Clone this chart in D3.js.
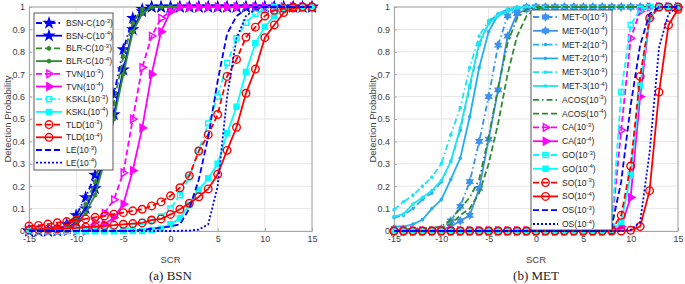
<!DOCTYPE html>
<html>
<head>
<meta charset="utf-8">
<script src="https://cdn.jsdelivr.net/npm/d3@7"></script>
<style>
  body { margin: 0; background: #fff; }
  svg text { font-family: "Liberation Sans", Arial, sans-serif; }
</style>
</head>
<body>
<script>
// x values (SCR, dB)
var scr = [-15,-14,-13,-12,-11,-10,-9,-8,-7,-6,-5,-4,-3,-2,-1,0,1,2,3,4,5,6,7,8,9,10,11,12,13,14,15];
var xTicks = [-15,-10,-5,0,5,10,15];
var yTicks = [0,0.1,0.2,0.3,0.4,0.5,0.6,0.7,0.8,0.9,1];

// (a) BSN
var bsnC3 = [0,0,0,0.01,0.03,0.07,0.15,0.25,0.42,0.61,0.81,0.95,0.99,1,1,1,1,1,1,1,1,1,1,1,1,1,1,1,1,1,1];
var bsnC4 = [0,0,0,0,0.01,0.04,0.1,0.19,0.33,0.52,0.72,0.9,0.98,1,1,1,1,1,1,1,1,1,1,1,1,1,1,1,1,1,1];
var blrC3 = [0,0,0,0,0.02,0.05,0.12,0.22,0.37,0.57,0.78,0.93,0.99,1,1,1,1,1,1,1,1,1,1,1,1,1,1,1,1,1,1];
var blrC4 = [0,0,0,0,0.01,0.03,0.08,0.16,0.31,0.5,0.7,0.89,0.97,1,1,1,1,1,1,1,1,1,1,1,1,1,1,1,1,1,1];
var tvn3  = [0,0,0,0,0,0,0.01,0.04,0.08,0.14,0.26,0.5,0.73,0.87,0.95,0.98,1,1,1,1,1,1,1,1,1,1,1,1,1,1,1];
var tvn4  = [0,0,0,0,0,0,0,0.01,0.03,0.06,0.12,0.27,0.46,0.7,0.89,0.98,1,1,1,1,1,1,1,1,1,1,1,1,1,1,1];
var kskl3 = [0,0,0,0,0,0,0,0,0,0,0.005,0.02,0.04,0.05,0.065,0.1,0.16,0.24,0.36,0.48,0.6,0.75,0.86,0.93,0.97,0.99,1,1,1,1,1];
var kskl4 = [0,0,0,0,0,0,0,0,0,0,0,0,0,0.005,0.01,0.03,0.057,0.116,0.183,0.235,0.3,0.436,0.555,0.71,0.838,0.912,0.96,0.99,1,1,1];
var tld3  = [0.022,0.025,0.031,0.037,0.042,0.049,0.054,0.061,0.067,0.075,0.082,0.09,0.097,0.112,0.13,0.157,0.193,0.247,0.357,0.43,0.52,0.69,0.766,0.865,0.91,0.96,0.985,0.995,1,1,1];
var tld4  = [0.005,0.006,0.008,0.01,0.012,0.014,0.017,0.02,0.023,0.026,0.03,0.033,0.036,0.049,0.054,0.074,0.097,0.124,0.153,0.188,0.253,0.36,0.463,0.615,0.723,0.863,0.92,0.975,0.995,1,1];
var le3   = [0,0,0,0,0,0,0,0,0,0,0,0.002,0.005,0.01,0.015,0.02,0.03,0.1,0.23,0.42,0.67,0.88,0.96,0.99,1,1,1,1,1,1,1];
var le4   = [0,0,0,0,0,0,0,0,0,0,0,0,0,0,0,0,0.001,0.002,0.006,0.03,0.2,0.6,0.86,0.96,0.99,1,1,1,1,1,1];

// (b) MET
var met0_3 = [0,0,0,0,0.002,0.01,0.045,0.11,0.22,0.4,0.6,0.83,0.96,0.99,1,1,1,1,1,1,1,1,1,1,1,1,1,1,1,1,1];
var met0_4 = [0,0,0,0,0,0.005,0.02,0.045,0.07,0.19,0.41,0.63,0.87,0.97,0.99,1,1,1,1,1,1,1,1,1,1,1,1,1,1,1,1];
var met2_3 = [0.06,0.07,0.1,0.14,0.17,0.22,0.31,0.45,0.64,0.83,0.93,0.97,0.99,1,1,1,1,1,1,1,1,1,1,1,1,1,1,1,1,1,1];
var met2_4 = [0.02,0.02,0.03,0.05,0.1,0.14,0.23,0.325,0.51,0.73,0.89,0.965,0.98,0.995,1,1,1,1,1,1,1,1,1,1,1,1,1,1,1,1,1];
var met3_3 = [0.095,0.13,0.16,0.2,0.24,0.3,0.43,0.55,0.73,0.87,0.94,0.97,0.99,1,1,1,1,1,1,1,1,1,1,1,1,1,1,1,1,1,1];
var met3_4 = [0.065,0.075,0.12,0.15,0.18,0.225,0.31,0.46,0.65,0.84,0.925,0.96,0.98,0.995,1,1,1,1,1,1,1,1,1,1,1,1,1,1,1,1,1];
var acos3  = [0.005,0.007,0.01,0.012,0.015,0.02,0.05,0.1,0.15,0.23,0.42,0.64,0.84,0.95,0.99,1,1,1,1,1,1,1,1,1,1,1,1,1,1,1,1];
var acos4  = [0.003,0.004,0.006,0.008,0.01,0.012,0.03,0.07,0.1,0.17,0.3,0.48,0.7,0.87,0.96,0.99,1,1,1,1,1,1,1,1,1,1,1,1,1,1,1];
var ca3 = [0,0,0,0,0,0,0,0,0,0,0,0,0,0,0,0,0,0,0,0,0,0,0,0.02,0.45,0.86,0.98,1,1,1,1];
var ca4 = [0,0,0,0,0,0,0,0,0,0,0,0,0,0,0,0,0,0,0,0,0,0,0,0,0.02,0.15,0.6,0.95,1,1,1];
var go3 = [0,0,0,0,0,0,0,0,0,0,0,0,0,0,0,0,0,0,0,0,0,0,0,0.02,0.62,0.92,0.99,1,1,1,1];
var go4 = [0,0,0,0,0,0,0,0,0,0,0,0,0,0,0,0,0,0,0,0,0,0,0,0,0.04,0.25,0.65,0.95,1,1,1];
var so3 = [0,0,0,0,0,0,0,0,0,0,0,0,0,0,0,0,0,0,0,0,0,0,0,0.005,0.07,0.29,0.69,0.95,1,1,1];
var so4 = [0,0,0,0,0,0,0,0,0,0,0,0,0,0,0,0,0,0,0,0,0,0,0,0,0,0.003,0.02,0.18,0.62,0.92,0.99];
var os3 = [0,0,0,0,0,0,0,0,0,0,0,0,0,0,0,0,0,0,0,0,0,0,0,0.02,0.22,0.56,0.83,0.97,1,1,1];
var os4 = [0,0,0,0,0,0,0,0,0,0,0,0,0,0,0,0,0,0,0,0,0,0,0,0,0,0.005,0.04,0.35,0.82,0.97,1];

// line styles (MATLAB-like)
var DASH = "6,3", DASHDOT = "6,3,1.5,3", DOT = "2,2", SOLID = null;

// custom marker shapes
var symPentagram = d3.symbolStar;
var symHexagram = { draw: function(ctx, size) {
  var r = Math.sqrt(size) * 0.62;
  [-90, 90].forEach(function(a0) {
    for (var k = 0; k < 3; k++) {
      var a = (a0 + k * 120) * Math.PI / 180;
      if (k === 0) ctx.moveTo(r * Math.cos(a), r * Math.sin(a));
      else ctx.lineTo(r * Math.cos(a), r * Math.sin(a));
    }
    ctx.closePath();
  });
}};
var symAsterisk = { draw: function(ctx, size) {
  var r = Math.sqrt(size) / 2;
  for (var k = 0; k < 4; k++) {
    var a = k * Math.PI / 4;
    ctx.moveTo(-r * Math.cos(a), -r * Math.sin(a));
    ctx.lineTo(r * Math.cos(a), r * Math.sin(a));
  }
}};
var symTriRight = { draw: function(ctx, size) {
  var r = Math.sqrt(size) * 0.62;
  ctx.moveTo(r, 0);
  ctx.lineTo(-r / 2, -r * 0.866);
  ctx.lineTo(-r / 2, r * 0.866);
  ctx.closePath();
}};

var bsnSeries = [
  {name: "BSN-C", e: "-3", v: bsnC3, c: "#0000ff", dash: DASHDOT, m: symPentagram, ms: 26, fill: true},
  {name: "BSN-C", e: "-4", v: bsnC4, c: "#0000ff", dash: SOLID, m: symPentagram, ms: 26, fill: true},
  {name: "BLR-C", e: "-3", v: blrC3, c: "#2e8b2e", dash: DASH, m: symAsterisk, ms: 22, fill: false},
  {name: "BLR-C", e: "-4", v: blrC4, c: "#2e8b2e", dash: SOLID, m: symAsterisk, ms: 22, fill: false},
  {name: "TVN", e: "-3", v: tvn3, c: "#ff00ff", dash: DASH, m: symTriRight, ms: 48, fill: false},
  {name: "TVN", e: "-4", v: tvn4, c: "#ff00ff", dash: SOLID, m: symTriRight, ms: 48, fill: true},
  {name: "KSKL", e: "-3", v: kskl3, c: "#00ffff", dash: DASHDOT, m: d3.symbolSquare, ms: 26, fill: false},
  {name: "KSKL", e: "-4", v: kskl4, c: "#00ffff", dash: SOLID, m: d3.symbolSquare, ms: 26, fill: true},
  {name: "TLD", e: "-3", v: tld3, c: "#ff0000", dash: DASH, m: d3.symbolCircle, ms: 45, fill: false},
  {name: "TLD", e: "-4", v: tld4, c: "#ff0000", dash: SOLID, m: d3.symbolCircle, ms: 45, fill: false},
  {name: "LE", e: "-3", v: le3, c: "#0000ff", dash: DASH, m: null},
  {name: "LE", e: "-4", v: le4, c: "#0000ff", dash: DOT, m: null}
];

var metSeries = [
  {name: "MET-0", e: "-3", v: met0_3, c: "#3a92ee", dash: DASHDOT, m: symHexagram, ms: 30, fill: true},
  {name: "MET-0", e: "-4", v: met0_4, c: "#3a92ee", dash: SOLID, m: symHexagram, ms: 30, fill: true},
  {name: "MET-2", e: "-3", v: met2_3, c: "#22b0f2", dash: DASHDOT, m: symAsterisk, ms: 12, fill: false},
  {name: "MET-2", e: "-4", v: met2_4, c: "#22b0f2", dash: SOLID, m: symAsterisk, ms: 12, fill: false},
  {name: "MET-3", e: "-3", v: met3_3, c: "#1ee4f2", dash: DASHDOT, m: symAsterisk, ms: 12, fill: false},
  {name: "MET-3", e: "-4", v: met3_4, c: "#1ee4f2", dash: SOLID, m: symAsterisk, ms: 12, fill: false},
  {name: "ACOS", e: "-3", v: acos3, c: "#2e8b2e", dash: DASHDOT, m: null},
  {name: "ACOS", e: "-4", v: acos4, c: "#2e8b2e", dash: DASH, m: null},
  {name: "CA", e: "-3", v: ca3, c: "#ff00ff", dash: DASH, m: symTriRight, ms: 48, fill: false},
  {name: "CA", e: "-4", v: ca4, c: "#ff00ff", dash: SOLID, m: symTriRight, ms: 48, fill: true},
  {name: "GO", e: "-3", v: go3, c: "#00ffff", dash: DASH, m: d3.symbolSquare, ms: 26, fill: false},
  {name: "GO", e: "-4", v: go4, c: "#00ffff", dash: SOLID, m: d3.symbolSquare, ms: 26, fill: true},
  {name: "SO", e: "-3", v: so3, c: "#ff0000", dash: DASH, m: d3.symbolCircle, ms: 45, fill: false},
  {name: "SO", e: "-4", v: so4, c: "#ff0000", dash: SOLID, m: d3.symbolCircle, ms: 45, fill: false},
  {name: "OS", e: "-3", v: os3, c: "#0000ff", dash: DASH, m: null},
  {name: "OS", e: "-4", v: os4, c: "#0000ff", dash: DOT, m: null}
];

var W = 685, H = 284, plotTop = 7, plotBottom = 231;

var svg = d3.select("body").append("svg")
    .attr("width", W)
    .attr("height", H);

function drawMarker(sel, s) {
  sel.attr("d", d3.symbol().type(s.m).size(s.ms))
    .attr("fill", s.fill ? s.c : "none")
    .attr("stroke", s.c)
    .attr("stroke-width", 1.4);
}

function drawPanel(opt) {
  var x = d3.scaleLinear().domain([-15, 15]).range([opt.left, opt.right]);
  var y = d3.scaleLinear().domain([0, 1]).range([plotBottom, plotTop]);
  var g = svg.append("g");

  // grid
  g.selectAll(".gx").data(xTicks).enter().append("line")
    .attr("x1", function(d) { return x(d); }).attr("x2", function(d) { return x(d); })
    .attr("y1", plotTop).attr("y2", plotBottom)
    .attr("stroke", "#e6e6e6").attr("stroke-width", 1);
  g.selectAll(".gy").data(yTicks).enter().append("line")
    .attr("x1", opt.left).attr("x2", opt.right)
    .attr("y1", function(d) { return y(d); }).attr("y2", function(d) { return y(d); })
    .attr("stroke", "#e6e6e6").attr("stroke-width", 1);

  // axes
  var ax = g.append("g").attr("transform", "translate(0," + plotBottom + ")")
    .call(d3.axisBottom(x).tickValues(xTicks).tickSizeInner(-3).tickSizeOuter(0).tickPadding(5)
      .tickFormat(function(d) { return String(d); }));
  var ay = g.append("g").attr("transform", "translate(" + opt.left + ",0)")
    .call(d3.axisLeft(y).tickValues(yTicks).tickSizeInner(-3).tickSizeOuter(0).tickPadding(4)
      .tickFormat(function(d) { return String(d); }));
  [ax, ay].forEach(function(a) {
    a.select(".domain").attr("stroke", "#a6a6a6");
    a.selectAll(".tick line").attr("stroke", "#a6a6a6");
    a.selectAll(".tick text").attr("fill", "#404040").style("font-size", "9px");
  });
  // top and right box edges
  g.append("line").attr("x1", opt.left).attr("x2", opt.right).attr("y1", plotTop).attr("y2", plotTop)
    .attr("stroke", "#a6a6a6");
  g.append("line").attr("x1", opt.right).attr("x2", opt.right).attr("y1", plotTop).attr("y2", plotBottom)
    .attr("stroke", "#a6a6a6");

  // series
  var line = d3.line()
    .x(function(d, i) { return x(scr[i]); })
    .y(function(d) { return y(d); });

  opt.series.forEach(function(s) {
    g.append("path")
      .attr("d", line(s.v))
      .attr("fill", "none")
      .attr("stroke", s.c)
      .attr("stroke-width", 1.8)
      .attr("stroke-dasharray", s.dash);
    if (s.m) {
      g.selectAll(null).data(s.v).enter().append("path")
        .attr("transform", function(d, i) { return "translate(" + x(scr[i]) + "," + y(d) + ")"; })
        .call(drawMarker, s);
    }
  });

  // axis titles
  g.append("text")
    .attr("x", (opt.left + opt.right) / 2).attr("y", 263)
    .attr("text-anchor", "middle")
    .attr("fill", "#404040").style("font-size", "9.5px")
    .text("SCR");
  g.append("text")
    .attr("transform", "translate(" + opt.ylabX + "," + (plotTop + plotBottom) / 2 + ") rotate(-90)")
    .attr("text-anchor", "middle")
    .attr("fill", "#404040").style("font-size", "9.5px")
    .text("Detection Probability");

  // caption
  g.append("text")
    .attr("x", (opt.left + opt.right) / 2).attr("y", 280)
    .attr("text-anchor", "middle")
    .style("font-family", "'Liberation Serif', 'DejaVu Serif', serif")
    .style("font-size", "13px")
    .attr("fill", "#222")
    .text(opt.caption);

  // legend
  var L = opt.legend;
  var lg = g.append("g");
  lg.append("rect")
    .attr("x", L.x).attr("y", L.y).attr("width", L.w).attr("height", L.h)
    .attr("fill", "#fff").attr("stroke", "#333").attr("stroke-width", 0.8);
  var rows = lg.selectAll(".row").data(opt.series).enter().append("g")
    .attr("transform", function(d, i) { return "translate(0," + (L.y0 + i * L.step) + ")"; });
  rows.append("line")
    .attr("x1", L.x + 2).attr("x2", L.x + 2 + L.len).attr("y1", 0).attr("y2", 0)
    .attr("stroke", function(d) { return d.c; })
    .attr("stroke-width", 1.8)
    .attr("stroke-dasharray", function(d) { return d.dash; });
  rows.filter(function(d) { return d.m; }).append("path")
    .attr("transform", "translate(" + (L.x + 2 + L.len / 2) + ",0)")
    .each(function(d) { d3.select(this).call(drawMarker, d); });
  var t = rows.append("text")
    .attr("x", L.x + L.len + 6).attr("y", 3)
    .attr("fill", "#262626").style("font-size", "8.5px");
  t.append("tspan").text(function(d) { return d.name + "(10"; });
  t.append("tspan").attr("dy", -3.5).style("font-size", "6px").text(function(d) { return d.e; });
  t.append("tspan").attr("dy", 3.5).text(")");
}

drawPanel({
  left: 29, right: 312, ylabX: 11, caption: "(a) BSN", series: bsnSeries,
  legend: {x: 34, y: 13, w: 79, h: 157, y0: 23, step: 12.7, len: 26}
});
drawPanel({
  left: 394, right: 678, ylabX: 376, caption: "(b) MET", series: metSeries,
  legend: {x: 531, y: 10, w: 81, h: 220, y0: 17, step: 13.8, len: 25}
});
</script>
</body>
</html>
